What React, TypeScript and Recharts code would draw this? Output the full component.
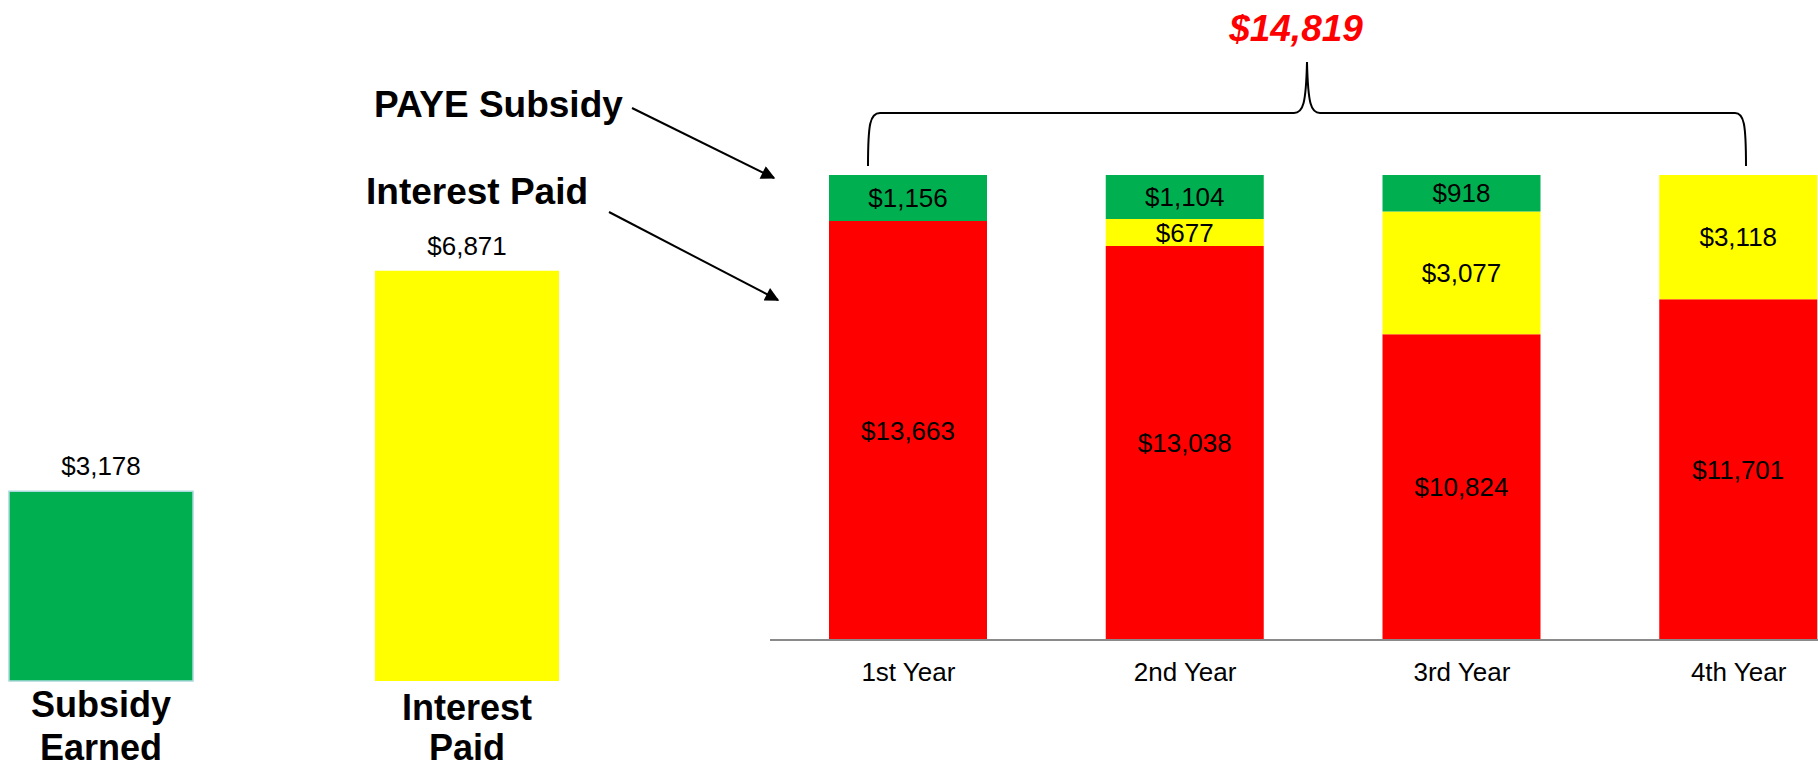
import { BarChart, Bar, XAxis, YAxis, Cell, LabelList } from 'recharts'

// left summary bars
const SUMMARY_LABELS = ['Subsidy Earned', 'Interest Paid']
const SUMMARY_VALUES = [3178, 6871]

// yearly stacked bars (bottom to top: red, yellow, green)
const YEARS = ['1st Year', '2nd Year', '3rd Year', '4th Year']
const REMAINDER = [13663, 13038, 10824, 11701]
const INTEREST_PAID = [0, 677, 3077, 3118]
const PAYE_SUBSIDY = [1156, 1104, 918, 0]

const GREEN = '#00b050'
const YELLOW = '#ffff00'
const RED = '#ff0000'
const FONT = 'Arial, "Liberation Sans", sans-serif'

// the yearly chart's value axis does not start at zero in the original
const MAIN_MIN = 3160
const MAIN_TOP = 175
const MAIN_BOTTOM = 640

const fmt = (v: number) => `$${v.toLocaleString('en-US')}`

const summaryData = SUMMARY_LABELS.map((name, i) => ({ name, value: SUMMARY_VALUES[i] }))
const SUMMARY_COLORS = [GREEN, YELLOW]

const yearData = YEARS.map((year, i) => ({
  year,
  remainder: REMAINDER[i],
  interest: INTEREST_PAID[i],
  subsidy: PAYE_SUBSIDY[i],
}))
const yearMax = Math.max(...yearData.map((d) => d.remainder + d.interest + d.subsidy))

function SummaryTick(props: any) {
  const { x, y, payload, index } = props
  const words = String(payload.value).split(' ')
  const shift = index === 1 ? 3 : 0
  return (
    <g>
      {words.map((w, i) => (
        <text
          key={w}
          x={x}
          y={y + 23 + shift + i * (43 - shift)}
          textAnchor="middle"
          dominantBaseline="central"
          fontFamily={FONT}
          fontWeight="bold"
          fontSize={36}
          fill="#000"
        >
          {w}
        </text>
      ))}
    </g>
  )
}

function TopLabel(props: any) {
  const { x, y, width, value } = props
  return (
    <text
      x={x + width / 2}
      y={y - 25}
      textAnchor="middle"
      dominantBaseline="central"
      fontFamily={FONT}
      fontSize={26}
      fill="#000"
    >
      {fmt(value)}
    </text>
  )
}

function MidLabel(props: any) {
  const { x, y, width, height, value } = props
  if (!value) return null
  const top = Math.max(Math.min(y, y + height), MAIN_TOP)
  const bottom = Math.min(Math.max(y, y + height), MAIN_BOTTOM)
  return (
    <text
      x={x + width / 2}
      y={(top + bottom) / 2}
      textAnchor="middle"
      dominantBaseline="central"
      fontFamily={FONT}
      fontSize={26}
      fill="#000"
    >
      {fmt(value)}
    </text>
  )
}

export default function App() {
  return (
    <div
      style={{
        position: 'absolute',
        left: 0,
        top: 0,
        width: 1818,
        height: 767,
        overflow: 'hidden',
        background: '#fff',
        fontFamily: FONT,
      }}
    >
      <div style={{ position: 'absolute', left: -82, top: 0 }}>
        <BarChart
          width={732}
          height={767}
          data={summaryData}
          margin={{ top: 263, right: 0, bottom: 0, left: 0 }}
          barSize={184}
        >
          <XAxis
            dataKey="name"
            height={86}
            axisLine={false}
            tickLine={false}
            tickSize={0}
            tickMargin={0}
            interval={0}
            tick={(p: any) => <SummaryTick {...p} />}
          />
          <YAxis hide domain={[0, 7000]} />
          <Bar dataKey="value" isAnimationActive={false}>
            {summaryData.map((d, i) => (
              <Cell
                key={d.name}
                fill={SUMMARY_COLORS[i]}
                stroke={i === 0 ? '#a9d9dc' : 'none'}
                strokeWidth={1.5}
              />
            ))}
            <LabelList dataKey="value" content={(p: any) => <TopLabel {...p} />} />
          </Bar>
        </BarChart>
      </div>

      <div style={{ position: 'absolute', left: 770, top: 0 }}>
        <BarChart
          width={1107}
          height={700}
          data={yearData}
          margin={{ top: MAIN_TOP, right: 0, bottom: 0, left: 0 }}
          barSize={158}
        >
          <XAxis
            dataKey="year"
            height={60}
            tickLine={false}
            tickSize={0}
            tickMargin={23}
            axisLine={{ stroke: '#8a8a8a', strokeWidth: 2 }}
            tick={{ fontSize: 26, fill: '#000', fontFamily: FONT }}
            interval={0}
          />
          <YAxis hide domain={[MAIN_MIN, yearMax]} allowDataOverflow />
          <Bar dataKey="remainder" stackId="a" fill={RED} isAnimationActive={false}>
            <LabelList dataKey="remainder" content={(p: any) => <MidLabel {...p} />} />
          </Bar>
          <Bar dataKey="interest" stackId="a" fill={YELLOW} isAnimationActive={false}>
            <LabelList dataKey="interest" content={(p: any) => <MidLabel {...p} />} />
          </Bar>
          <Bar dataKey="subsidy" stackId="a" fill={GREEN} isAnimationActive={false}>
            <LabelList dataKey="subsidy" content={(p: any) => <MidLabel {...p} />} />
          </Bar>
        </BarChart>
      </div>

      <svg
        width={1818}
        height={767}
        style={{ position: 'absolute', left: 0, top: 0, pointerEvents: 'none' }}
      >
        <defs>
          <marker
            id="head"
            viewBox="0 0 10 10"
            refX="9"
            refY="5"
            markerWidth="18"
            markerHeight="14"
            markerUnits="userSpaceOnUse"
            orient="auto"
          >
            <path d="M0,0 L10,5 L0,10 z" fill="#000" />
          </marker>
        </defs>
        <text x={374} y={117} fontFamily={FONT} fontWeight="bold" fontSize={37} fill="#000">
          PAYE Subsidy
        </text>
        <text x={366} y={204} fontFamily={FONT} fontWeight="bold" fontSize={37} fill="#000">
          Interest Paid
        </text>
        <line x1={632} y1={108} x2={774} y2={178} stroke="#000" strokeWidth={2} markerEnd="url(#head)" />
        <line x1={609} y1={212} x2={778} y2={300} stroke="#000" strokeWidth={2} markerEnd="url(#head)" />
        <path
          d="M868,166 C868,124 870,113 880,113 L1294,113 C1303,113 1306,104 1307,62 C1308,104 1311,113 1320,113 L1735,113 C1744,113 1746,124 1746,166"
          fill="none"
          stroke="#000"
          strokeWidth={2}
        />
        <text
          x={1296}
          y={28}
          textAnchor="middle"
          dominantBaseline="central"
          fontFamily={FONT}
          fontWeight="bold"
          fontStyle="italic"
          fontSize={37}
          fill={RED}
        >
          {fmt(yearMax)}
        </text>
      </svg>
    </div>
  )
}
